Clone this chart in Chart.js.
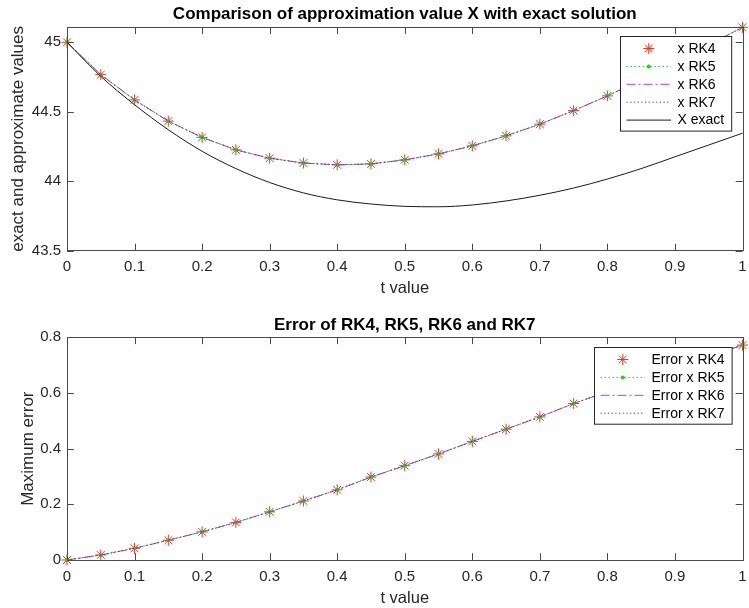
<!DOCTYPE html>
<html>
<head>
<meta charset="utf-8">
<script src="https://cdn.jsdelivr.net/npm/chart.js@4.4.0/dist/chart.umd.min.js"></script>
<style>
  html, body { margin: 0; padding: 0; background: #fff; }
  #wrap { position: relative; width: 749px; height: 608px; }
  canvas { position: absolute; left: 0; }
  #chart-x { top: 0; }
  #chart-err { top: 300px; }
</style>
</head>
<body>
<div id="wrap">
  <canvas id="chart-x" width="749" height="300"></canvas>
  <canvas id="chart-err" width="749" height="308"></canvas>
</div>
<script>
// Datos (t = 0 .. 1, paso 0.05)
const tValues = [0, 0.05, 0.1, 0.15, 0.2, 0.25, 0.3, 0.35, 0.4, 0.45, 0.5,
                 0.55, 0.6, 0.65, 0.7, 0.75, 0.8, 0.85, 0.9, 0.95, 1];

// RK4..RK7 se superponen a esta resolucion
const approxX = [45.000, 44.767, 44.585, 44.432, 44.315, 44.225, 44.165, 44.130, 44.117, 44.124, 44.153,
                 44.196, 44.254, 44.326, 44.410, 44.508, 44.614, 44.730, 44.852, 44.980, 45.108];
const exactX = [45.000, 44.755, 44.550, 44.370, 44.215, 44.090, 43.990, 43.915, 43.865, 43.835, 43.818,
                43.815, 43.828, 43.857, 43.898, 43.950, 44.015, 44.090, 44.175, 44.260, 44.345];
const errorX = [0, 0.018, 0.042, 0.071, 0.101, 0.135, 0.173, 0.212, 0.252, 0.298, 0.339,
                0.381, 0.426, 0.470, 0.514, 0.562, 0.605, 0.647, 0.689, 0.731, 0.772];

const xTicks = [0, 0.1, 0.2, 0.3, 0.4, 0.5, 0.6, 0.7, 0.8, 0.9, 1];
const topLabels = ["x RK4", "x RK5", "x RK6", "x RK7", "X exact"];
const bottomLabels = ["Error x RK4", "Error x RK5", "Error x RK6", "Error x RK7"];

const FONT = "'Liberation Sans', Arial, Helvetica, sans-serif";
const TEXT = "#262626";
const AXIS = "#4a4a4a";

function points(ys) {
    return tValues.map((t, i) => ({ x: t, y: ys[i] }));
}

// Estilos tipo Matlab: 'r*', 'g.:', 'm-.', 'b:', 'k-'
function rkDatasets(labels, ys) {
    return [
        { label: labels[0], data: points(ys), showLine: false, pointStyle: "star", pointRadius: 5.5,
          borderColor: "#e23a2c", pointBorderColor: "#e23a2c", pointBorderWidth: 1, order: 5 },
        { label: labels[1], data: points(ys), borderColor: "#22d022", borderWidth: 1, borderDash: [1.5, 2.5],
          pointStyle: "circle", pointRadius: 2, pointBackgroundColor: "#22d022", pointBorderWidth: 0, order: 4 },
        { label: labels[2], data: points(ys), borderColor: "#c040c0", borderWidth: 1, borderDash: [9, 3, 2, 3],
          pointRadius: 0, order: 3 },
        { label: labels[3], data: points(ys), borderColor: "#404090", borderWidth: 1, borderDash: [1.2, 2.5],
          pointRadius: 0, order: 2 }
    ];
}

// Caja del eje con marcas hacia dentro en los cuatro lados
const boxPlugin = {
    id: "matlabBox",
    afterDatasetsDraw(chart) {
        const { ctx, chartArea: a, scales } = chart;
        const len = 6.8;
        ctx.save();
        ctx.strokeStyle = AXIS;
        ctx.lineWidth = 1;
        ctx.beginPath();
        scales.x.ticks.forEach(t => {
            const px = Math.round(scales.x.getPixelForValue(t.value)) + 0.5;
            ctx.moveTo(px, a.bottom); ctx.lineTo(px, a.bottom - len);
            ctx.moveTo(px, a.top); ctx.lineTo(px, a.top + len);
        });
        scales.y.ticks.forEach(t => {
            const py = Math.round(scales.y.getPixelForValue(t.value)) + 0.5;
            ctx.moveTo(a.left, py); ctx.lineTo(a.left + len, py);
            ctx.moveTo(a.right, py); ctx.lineTo(a.right - len, py);
        });
        ctx.stroke();
        ctx.strokeRect(Math.round(a.left) + 0.5, Math.round(a.top) + 0.5,
                       Math.round(a.right - a.left), Math.round(a.bottom - a.top));
        ctx.restore();
    }
};

// Leyenda dentro del area, esquina superior derecha
const legendPlugin = {
    id: "matlabLegend",
    afterDraw(chart, args, opts) {
        const { ctx, chartArea: a } = chart;
        const sets = chart.data.datasets;
        ctx.save();
        ctx.font = "14px " + FONT;
        const textW = Math.max(...sets.map(d => ctx.measureText(d.label).width));
        const w = 6 + 44.5 + 6.5 + textW + 7.5;
        const rowH = 17.9;
        const h = 12 + (sets.length - 1) * rowH + 11;
        const x0 = Math.round(a.right - opts.right - w) + 0.5;
        const y0 = Math.round(a.top + opts.top) + 0.5;
        ctx.fillStyle = "#fff";
        ctx.fillRect(x0, y0, w, h);
        ctx.strokeStyle = "#262626";
        ctx.lineWidth = 1;
        ctx.strokeRect(x0, y0, w, h);

        sets.forEach((d, i) => {
            const y = y0 + 12 + i * rowH;
            const lx0 = x0 + 6, lx1 = x0 + 50.5, mx = (lx0 + lx1) / 2;
            if (d.showLine !== false) {
                ctx.beginPath();
                ctx.setLineDash(d.borderDash || []);
                ctx.strokeStyle = d.borderColor;
                ctx.lineWidth = d.borderWidth || 1;
                ctx.moveTo(lx0, y); ctx.lineTo(lx1, y);
                ctx.stroke();
                ctx.setLineDash([]);
            }
            if (d.pointRadius > 0 && d.pointStyle === "star") {
                const r = d.pointRadius, k = r * Math.SQRT1_2;
                ctx.beginPath();
                ctx.strokeStyle = d.pointBorderColor;
                ctx.lineWidth = 1;
                ctx.moveTo(mx - r, y); ctx.lineTo(mx + r, y);
                ctx.moveTo(mx, y - r); ctx.lineTo(mx, y + r);
                ctx.moveTo(mx - k, y - k); ctx.lineTo(mx + k, y + k);
                ctx.moveTo(mx - k, y + k); ctx.lineTo(mx + k, y - k);
                ctx.stroke();
            } else if (d.pointRadius > 0) {
                ctx.beginPath();
                ctx.fillStyle = d.pointBackgroundColor;
                ctx.arc(mx, y, d.pointRadius, 0, Math.PI * 2);
                ctx.fill();
            }
            ctx.fillStyle = "#000";
            ctx.textBaseline = "middle";
            ctx.textAlign = "left";
            ctx.fillText(d.label, x0 + 57, y + 0.5);
        });
        ctx.restore();
    }
};

function tickLabel(v) {
    return String(Math.round(v * 100) / 100);
}

function buildChart(id, cfg) {
    return new Chart(document.getElementById(id), {
        type: "line",
        data: { datasets: cfg.datasets },
        plugins: [boxPlugin, legendPlugin],
        options: {
            responsive: false,
            animation: false,
            layout: { padding: { left: 0, right: 5, top: 0, bottom: 0 } },
            datasets: { line: { clip: false, tension: 0 } },
            plugins: {
                legend: { display: false },
                tooltip: { enabled: false },
                title: {
                    display: true, text: cfg.title, color: "#000", fullSize: false,
                    font: { family: FONT, size: 17, weight: "bold" },
                    padding: cfg.titlePadding
                },
                matlabLegend: cfg.legend
            },
            scales: {
                x: {
                    type: "linear", position: "bottom", min: 0, max: 1,
                    afterBuildTicks: s => { s.ticks = xTicks.map(v => ({ value: v })); },
                    afterFit: s => { s.height = cfg.xHeight; s.paddingLeft = 0; s.paddingRight = 0; },
                    grid: { display: false, drawTicks: false },
                    border: { display: false },
                    ticks: { padding: 7.5, color: TEXT, maxRotation: 0, autoSkip: false,
                             font: { family: FONT, size: 15 }, callback: tickLabel },
                    title: { display: true, text: "t value", color: TEXT,
                             font: { family: FONT, size: 16.5 }, padding: { top: 0, bottom: cfg.xTitlePad } }
                },
                y: {
                    type: "linear", min: cfg.yMin, max: cfg.yMax,
                    afterBuildTicks: s => { s.ticks = cfg.yTicks.map(v => ({ value: v })); },
                    afterFit: s => { s.width = 67; s.paddingTop = 0; s.paddingBottom = 0; },
                    grid: { display: false, drawTicks: false },
                    border: { display: false },
                    ticks: { padding: 6, color: TEXT, font: { family: FONT, size: 15 }, callback: tickLabel },
                    title: { display: true, text: cfg.yTitle, color: TEXT,
                             font: { family: FONT, size: 17 }, padding: { top: cfg.yTitlePad, bottom: 0 } }
                }
            }
        }
    });
}

// Grafico superior: aproximaciones frente a la solucion exacta
const topSets = rkDatasets(topLabels, approxX);
topSets.push({ label: topLabels[4], data: points(exactX), borderColor: "#1a1a1a", borderWidth: 1,
               pointRadius: 0, cubicInterpolationMode: "monotone", order: 1 });

buildChart("chart-x", {
    datasets: topSets,
    title: "Comparison of approximation value X with exact solution",
    titlePadding: { top: 4, bottom: 2.9 },
    legend: { right: 11.7, top: 8.7 },
    xHeight: 49.5, xTitlePad: 2,
    yMin: 43.5, yMax: 45.108, yTicks: [43.5, 44, 44.5, 45],
    yTitle: "exact and approximate values", yTitlePad: 7.8
});

// Grafico inferior: error de cada metodo
buildChart("chart-err", {
    datasets: rkDatasets(bottomLabels, errorX),
    title: "Error of RK4, RK5, RK6 and RK7",
    titlePadding: { top: 14.8, bottom: 2.1 },
    legend: { right: 10.7, top: 9.4 },
    xHeight: 48, xTitlePad: 0,
    yMin: 0, yMax: 0.8, yTicks: [0, 0.2, 0.4, 0.6, 0.8],
    yTitle: "Maximum error", yTitlePad: 18.1
});
</script>
</body>
</html>
